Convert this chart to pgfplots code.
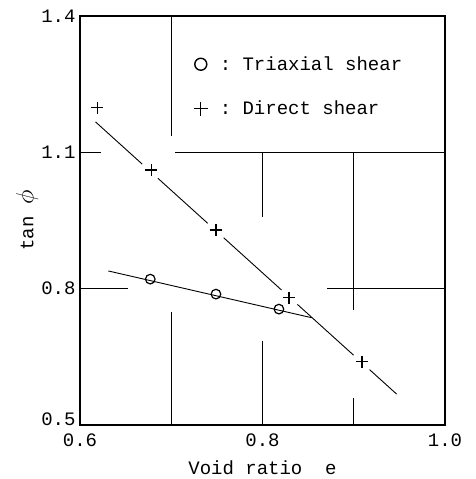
\documentclass[border=0pt]{standalone}
\usepackage{fontspec}
\setmainfont{Liberation Mono}
\usepackage{pgfplots}
\pgfplotsset{compat=1.18}
\begin{document}
\begin{tikzpicture}
\useasboundingbox (-80pt,-54pt) rectangle (395pt,425pt);
\begin{axis}[name=ax, at={(0,0)}, anchor=south west,
  scale only axis, width=365pt, height=409pt,
  xmin=0.6, xmax=1.0, ymin=0.5, ymax=1.4,
  xtick={0.6,0.8,1.0}, ytick={0.8,1.1,1.4},
  xticklabels={\mbox{0.6},\mbox{0.8},\mbox{1.0}},
  yticklabels={\mbox{0.8},\mbox{1.1},\mbox{1.4}},
  extra y ticks={0.5}, extra y tick labels={\mbox{0.5}},
  extra y tick style={yticklabel style={yshift=6pt}},
  major tick length=0pt,
  tick label style={font=\fontsize{19}{22}\selectfont},
  xticklabel style={yshift=-5pt},
  yticklabel style={xshift=-1pt},
  label style={font=\fontsize{19}{22}\selectfont},
  xlabel={Void ratio\ \ e},
  ylabel={tan {\fontsize{26}{28}\selectfont$\phi$}},
  xlabel style={at={(axis description cs:0.5,-0.105)}, anchor=center},
  ylabel style={at={(axis description cs:-0.145,0.5)}, anchor=center},
  axis line style={line width=1.2pt},
  legend style={draw=none, fill=none, at={(0.303,0.911)}, anchor=north west,
    font=\fontsize{19}{22}\selectfont, row sep=25pt},
  legend cell align=left,
]
% partial grid lines
\draw[line width=0.8pt] (axis cs:0.7,1.4) -- (axis cs:0.7,1.135);
\draw[line width=0.8pt] (axis cs:0.7,0.5) -- (axis cs:0.7,0.749);
\draw[line width=0.8pt] (axis cs:0.8,1.1) -- (axis cs:0.8,0.958);
\draw[line width=0.8pt] (axis cs:0.8,0.5) -- (axis cs:0.8,0.685);
\draw[line width=0.8pt] (axis cs:0.9,1.1) -- (axis cs:0.9,0.753);
\draw[line width=0.8pt] (axis cs:0.9,0.5) -- (axis cs:0.9,0.559);
\draw[line width=0.8pt] (axis cs:0.6,1.1) -- (axis cs:0.623,1.1);
\draw[line width=0.8pt] (axis cs:0.704,1.1) -- (axis cs:1.0,1.1);
\draw[line width=0.8pt] (axis cs:0.6,0.8) -- (axis cs:0.653,0.8);
\draw[line width=0.8pt] (axis cs:0.871,0.8) -- (axis cs:1.0,0.8);
% fitted lines
\addplot[black, line width=0.9pt, forget plot] coordinates {(0.631,0.839) (0.854,0.736)};
\addplot[black, line width=0.9pt, forget plot] coordinates {(0.617,1.167) (0.947,0.568)};
% white gaps around plus marks
\addplot[white, only marks, mark=*, mark size=10.5pt, mark options={draw=white, fill=white}, forget plot]
  coordinates {(0.678,1.061) (0.749,0.929) (0.829,0.780) (0.909,0.639)};
% data
\addplot[black, only marks, mark=o, mark size=4.8pt, mark options={line width=1.2pt, fill=white, draw=black},
  legend image code/.code={\draw[black, only marks, mark=o, mark size=6pt, line width=1.4pt, mark options={fill=white}] plot coordinates {(0.3cm,0cm)};}]
  coordinates {(0.677,0.821) (0.749,0.788) (0.818,0.755)};
\addlegendentry{\hspace*{10pt}:\ Triaxial shear}
\addplot[black, only marks, mark=+, mark size=6pt, mark options={line width=1.2pt, draw=black},
  legend image code/.code={\draw[black, only marks, mark=+, mark size=7pt, line width=1.5pt] plot coordinates {(0.3cm,0cm)};}]
  coordinates {(0.619,1.198) (0.678,1.061) (0.749,0.929) (0.829,0.780) (0.909,0.639)};
\addlegendentry{\hspace*{10pt}:\ Direct shear}
\end{axis}
\end{tikzpicture}
\end{document}
